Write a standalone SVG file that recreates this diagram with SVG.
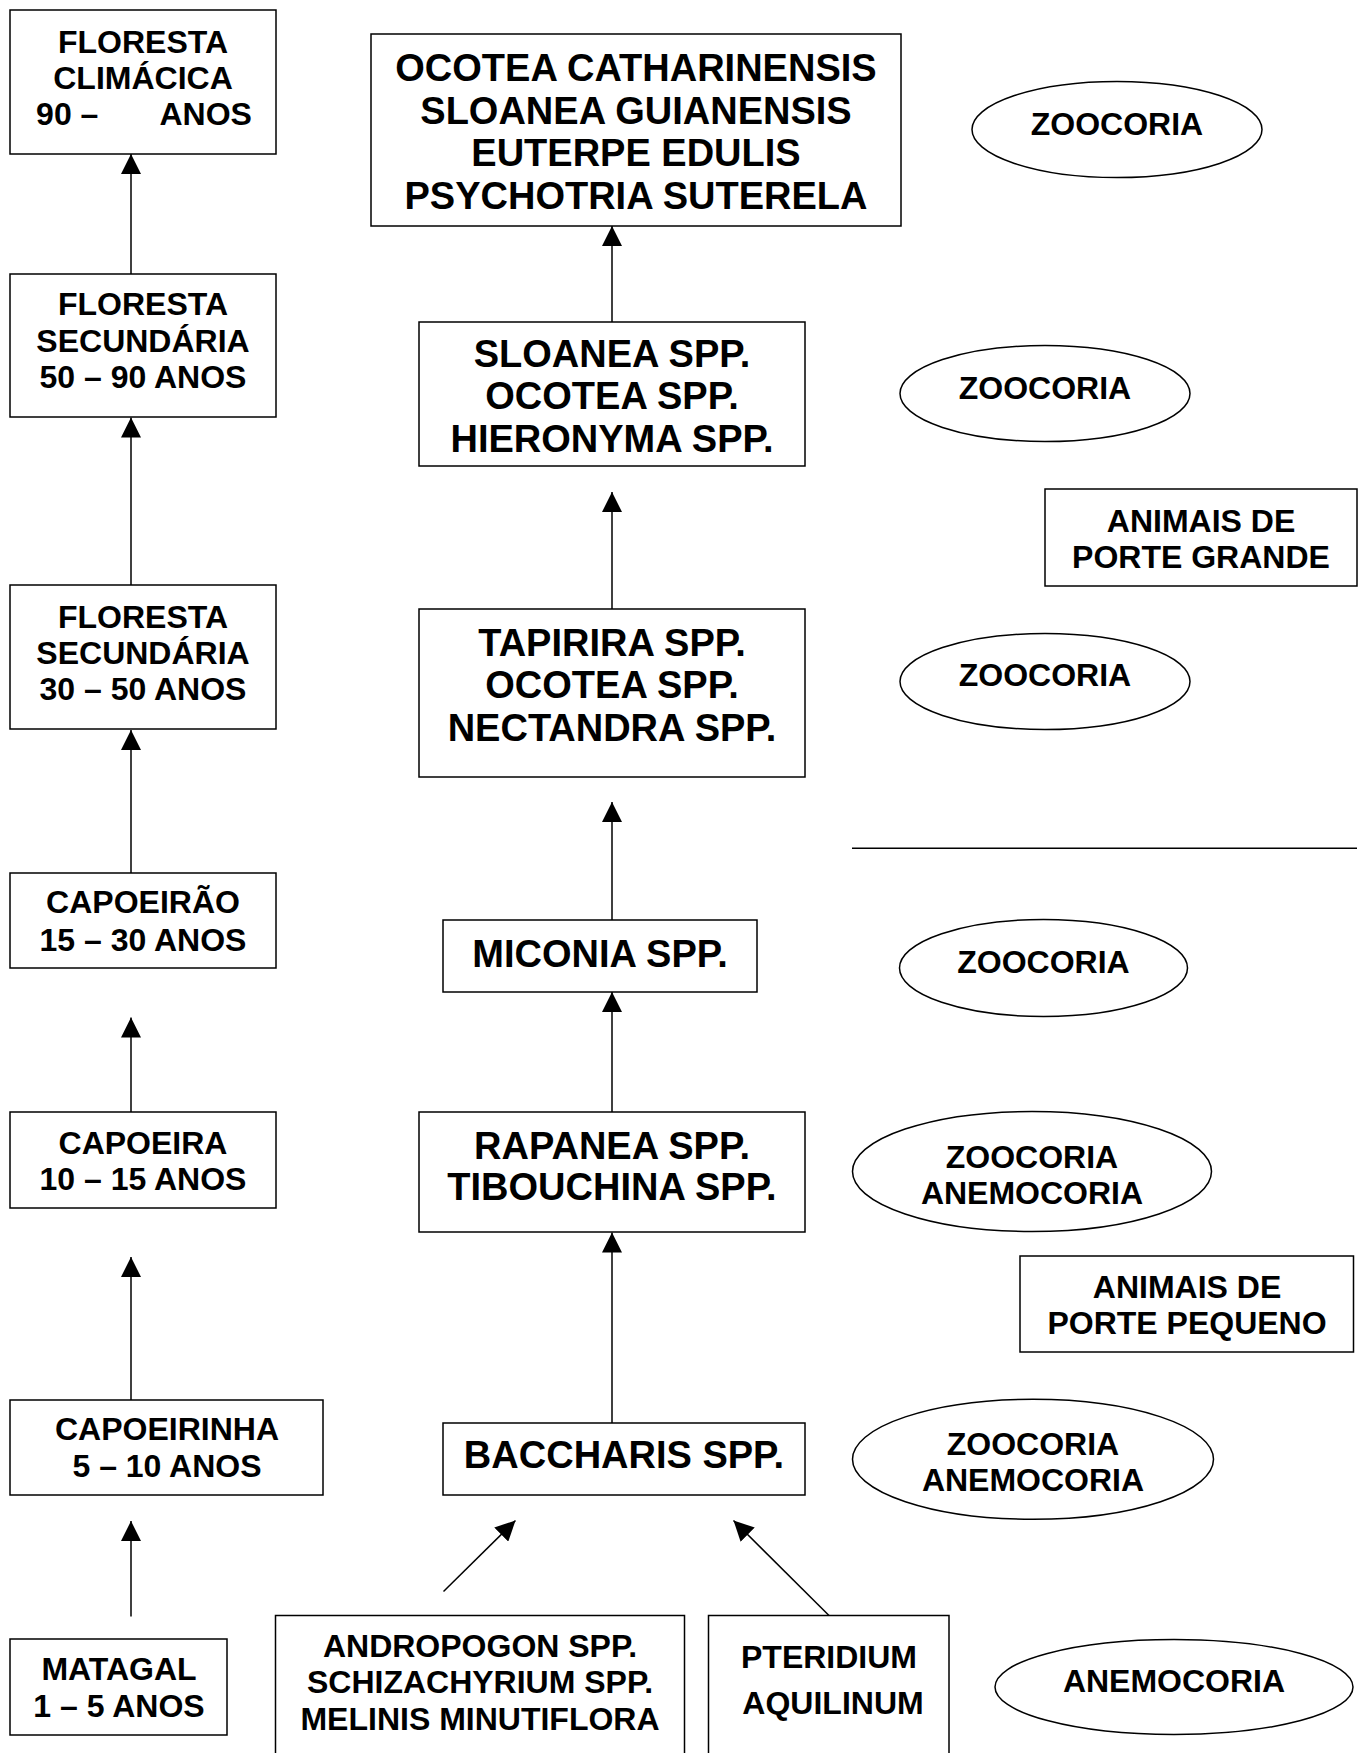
<svg xmlns="http://www.w3.org/2000/svg" width="1366" height="1753" viewBox="0 0 1366 1753">
<style>
text{font-family:"Liberation Sans",Arial,Helvetica,sans-serif;font-weight:bold;fill:#000;text-anchor:middle}
.s{font-size:32px}
.m{font-size:38px}
rect,ellipse{fill:#fff;stroke:#000;stroke-width:1.5}
.c line{stroke:#000;stroke-width:1.5;fill:none}
.c line.a{marker-end:url(#ah)}
</style>
<defs>
<marker id="ah" markerUnits="userSpaceOnUse" markerWidth="20" markerHeight="20" viewBox="0 0 20 20" refX="20" refY="10" orient="auto">
<path d="M0,0 L20,10 L0,20 z" fill="#000"/>
</marker>
</defs>
<rect width="1366" height="1753" style="fill:#fff;stroke:none"/>

<g id="n-floresta-climacica"><rect x="10" y="10" width="266" height="144"/>
<text class="s" x="143" y="52.5">FLORESTA</text><text class="s" x="143" y="88.5">CLIMÁCICA</text><text class="s" x="144" y="125" xml:space="preserve">90 –       ANOS</text></g>
<g id="n-floresta-sec-50-90"><rect x="10" y="274" width="266" height="143"/>
<text class="s" x="143" y="315">FLORESTA</text><text class="s" x="143" y="351.5">SECUNDÁRIA</text><text class="s" x="143" y="388">50 – 90 ANOS</text></g>
<g id="n-floresta-sec-30-50"><rect x="10" y="585" width="266" height="144"/>
<text class="s" x="143" y="627.5">FLORESTA</text><text class="s" x="143" y="663.5">SECUNDÁRIA</text><text class="s" x="143" y="700">30 – 50 ANOS</text></g>
<g id="n-capoeirao"><rect x="10" y="873" width="266" height="95"/>
<text class="s" x="143" y="913">CAPOEIRÃO</text><text class="s" x="143" y="950.5">15 – 30 ANOS</text></g>
<g id="n-capoeira"><rect x="10" y="1112" width="266" height="96"/>
<text class="s" x="143" y="1154">CAPOEIRA</text><text class="s" x="143" y="1189.5">10 – 15 ANOS</text></g>
<g id="n-capoeirinha"><rect x="10" y="1400" width="313" height="95"/>
<text class="s" x="167" y="1440">CAPOEIRINHA</text><text class="s" x="167" y="1477">5 – 10 ANOS</text></g>
<g id="n-matagal"><rect x="10" y="1639" width="217" height="96"/>
<text class="s" x="119" y="1680">MATAGAL</text><text class="s" x="119" y="1716.5">1 – 5 ANOS</text></g>

<g id="n-ocotea-catharinensis"><rect x="371" y="34" width="530" height="192"/>
<text class="m" x="636" y="81">OCOTEA CATHARINENSIS</text><text class="m" x="636" y="123.5">SLOANEA GUIANENSIS</text><text class="m" x="636" y="166">EUTERPE EDULIS</text><text class="m" x="636" y="208.5">PSYCHOTRIA SUTERELA</text></g>
<g id="n-sloanea"><rect x="419" y="322" width="386" height="144"/>
<text class="m" x="612" y="366.5">SLOANEA SPP.</text><text class="m" x="612" y="409">OCOTEA SPP.</text><text class="m" x="612" y="451.5">HIERONYMA SPP.</text></g>
<g id="n-tapirira"><rect x="419" y="609" width="386" height="168"/>
<text class="m" x="612" y="655.5">TAPIRIRA SPP.</text><text class="m" x="612" y="698">OCOTEA SPP.</text><text class="m" x="612" y="740.5">NECTANDRA SPP.</text></g>
<g id="n-miconia"><rect x="443" y="920" width="314" height="72"/>
<text class="m" x="600" y="967">MICONIA SPP.</text></g>
<g id="n-rapanea"><rect x="419" y="1112" width="386" height="120"/>
<text class="m" x="612" y="1158.5">RAPANEA SPP.</text><text class="m" x="612" y="1200">TIBOUCHINA SPP.</text></g>
<g id="n-baccharis"><rect x="443" y="1423" width="362" height="72"/>
<text class="m" x="624" y="1468">BACCHARIS SPP.</text></g>
<g id="n-andropogon"><rect x="275.5" y="1615.5" width="409" height="160"/>
<text class="s" x="480" y="1656.5">ANDROPOGON SPP.</text><text class="s" x="480" y="1693">SCHIZACHYRIUM SPP.</text><text class="s" x="480" y="1729.5">MELINIS MINUTIFLORA</text></g>
<g id="n-pteridium"><rect x="708.5" y="1615.5" width="240.5" height="160"/>
<text class="s" x="829" y="1667.5">PTERIDIUM</text><text class="s" x="833" y="1714">AQUILINUM</text></g>

<g id="n-zoocoria-1"><ellipse cx="1117" cy="129.5" rx="145" ry="48"/><text class="s" x="1117" y="134.5">ZOOCORIA</text></g>
<g id="n-zoocoria-2"><ellipse cx="1045" cy="393.5" rx="145" ry="48"/><text class="s" x="1045" y="398.5">ZOOCORIA</text></g>
<g id="n-animais-grande"><rect x="1045" y="489" width="312" height="97"/>
<text class="s" x="1201" y="531.5">ANIMAIS DE</text><text class="s" x="1201" y="568">PORTE GRANDE</text></g>
<g id="n-zoocoria-3"><ellipse cx="1045" cy="681.5" rx="145" ry="48"/><text class="s" x="1045" y="686">ZOOCORIA</text></g>
<g id="n-zoocoria-4"><ellipse cx="1043.5" cy="968" rx="144" ry="48.5"/><text class="s" x="1043.5" y="973">ZOOCORIA</text></g>
<g id="n-zoo-anemo-1"><ellipse cx="1032" cy="1171.5" rx="179.5" ry="60"/><text class="s" x="1032" y="1167.5">ZOOCORIA</text><text class="s" x="1032" y="1204">ANEMOCORIA</text></g>
<g id="n-animais-pequeno"><rect x="1020" y="1256" width="333.5" height="96"/>
<text class="s" x="1187" y="1297.5">ANIMAIS DE</text><text class="s" x="1187" y="1333.5">PORTE PEQUENO</text></g>
<g id="n-zoo-anemo-2"><ellipse cx="1033" cy="1459.3" rx="180.5" ry="60"/><text class="s" x="1033" y="1455">ZOOCORIA</text><text class="s" x="1033" y="1491">ANEMOCORIA</text></g>
<g id="n-anemocoria"><ellipse cx="1174" cy="1687" rx="179" ry="47.5"/><text class="s" x="1174" y="1692">ANEMOCORIA</text></g>

<g id="connectors" class="c">
<line class="a" x1="131" y1="274" x2="131" y2="154"/>
<line class="a" x1="131" y1="585" x2="131" y2="417.5"/>
<line class="a" x1="131" y1="873" x2="131" y2="730"/>
<line class="a" x1="131" y1="1112" x2="131" y2="1017.5"/>
<line class="a" x1="131" y1="1400" x2="131" y2="1257"/>
<line class="a" x1="131" y1="1616.5" x2="131" y2="1521"/>
<line class="a" x1="612" y1="322" x2="612" y2="226"/>
<line class="a" x1="612" y1="609" x2="612" y2="492"/>
<line class="a" x1="612" y1="920" x2="612" y2="802"/>
<line class="a" x1="612" y1="1112" x2="612" y2="992"/>
<line class="a" x1="612" y1="1423" x2="612" y2="1232.5"/>
<line class="a" x1="443.5" y1="1591.5" x2="515.5" y2="1520.5"/>
<line class="a" x1="829" y1="1615.5" x2="733.5" y2="1520.5"/>
<line x1="852" y1="848.3" x2="1357" y2="848.3"/>
</g>
</svg>
